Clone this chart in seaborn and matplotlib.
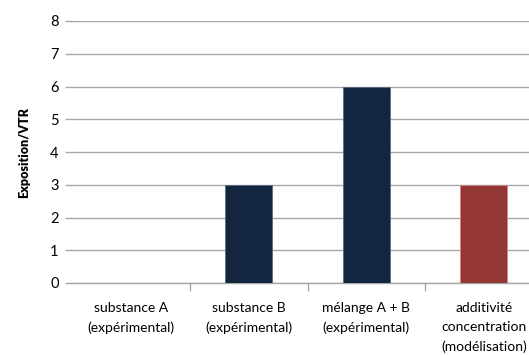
import matplotlib
matplotlib.use("Agg")
import matplotlib.pyplot as plt
import seaborn as sns
import pandas as pd

categories = [
    "substance A\n(expérimental)",
    "substance B\n(expérimental)",
    "mélange A + B\n(expérimental)",
    "additivité\nconcentration\n(modélisation)",
]
values = [0, 3, 6, 3]
colors = ["#13253F", "#13253F", "#13253F", "#943634"]

sns.set_theme(style="white")
plt.rcParams["font.family"] = ["Lato", "DejaVu Sans"]
plt.rcParams["text.color"] = "black"
plt.rcParams["axes.labelcolor"] = "black"
plt.rcParams["xtick.labelcolor"] = "black"
plt.rcParams["ytick.labelcolor"] = "black"

df = pd.DataFrame({"cat": categories, "val": values})

fig = plt.figure(figsize=(5.29, 3.55), dpi=100)
ax = fig.add_axes([72.5 / 529, 72 / 355, 470 / 529, 262 / 355])

sns.barplot(data=df, x="cat", y="val", hue="cat", palette=colors,
            saturation=1, width=0.4, legend=False, ax=ax,
            edgecolor="#5a6a80", linewidth=0.6, zorder=3)
# lighter edge on the modelled bar
ax.patches[3].set_edgecolor("#c98a88")

ax.set_xlim(-0.5, 3.5)
ax.set_ylim(0, 8)
ax.set_yticks(range(0, 9))
ax.yaxis.grid(True, color="#a6a6a6", linewidth=1.0, zorder=0)
ax.set_axisbelow(True)

for s in ["top", "right", "left"]:
    ax.spines[s].set_visible(False)
ax.spines["bottom"].set_color("#a6a6a6")
ax.spines["bottom"].set_linewidth(1.0)

ax.tick_params(axis="y", length=6, width=1.0, color="#a6a6a6", pad=4,
               labelsize=10.5, left=True, labelcolor="black")
# category separators as x ticks
ax.set_xticks([0.5, 1.5, 2.5], minor=True)
ax.tick_params(axis="x", which="minor", length=6, width=1.0, color="#a6a6a6",
               bottom=True)
ax.tick_params(axis="x", which="major", length=0, pad=14, labelsize=10,
               labelcolor="black")
for lbl in ax.get_xticklabels():
    lbl.set_linespacing(1.7)
    lbl.set_verticalalignment("top")

ax.set_xlabel("")
ax.set_ylabel("Exposition/VTR", fontsize=9, fontweight="heavy",
              labelpad=14, color="black")

fig.savefig("out.png", dpi=100)
